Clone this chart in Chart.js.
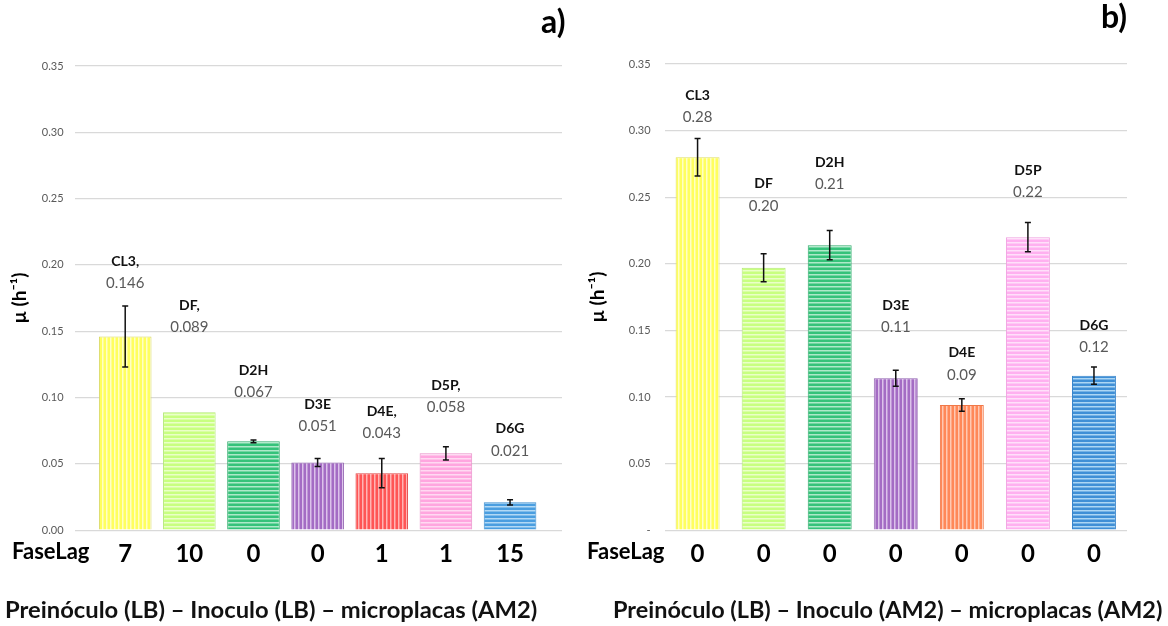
<!DOCTYPE html>
<html>
<head>
<meta charset="utf-8">
<script src="https://cdn.jsdelivr.net/npm/chart.js@4.4.1/dist/chart.umd.min.js"></script>
<style>
  body { margin: 0; background: #fff; width: 1168px; height: 626px; overflow: hidden; position: relative; font-family: Lato, sans-serif; }
  .box { position: absolute; top: 0; height: 626px; }
  #boxA { left: 0; width: 580px; }
  #boxB { left: 580px; width: 588px; }
  .txt { position: absolute; white-space: nowrap; color: #000; font-weight: bold; }
  .tag { font-size: 32px; line-height: 36px; }
  .lag { font-size: 22px; line-height: 26px; }
  .cap { font-size: 22px; line-height: 26px; color: #111; transform-origin: 0 0; }
</style>
</head>
<body>
<div class="box" id="boxA"><canvas id="chartA"></canvas></div>
<div class="box" id="boxB"><canvas id="chartB"></canvas></div>
<div class="txt tag" style="left:541px;top:3px">a)</div>
<div class="txt tag" style="left:1101px;top:-2px">b)</div>
<div class="txt lag" style="left:12px;top:538px">FaseLag</div>
<div class="txt lag" style="left:587px;top:538px">FaseLag</div>
<div class="txt cap" style="left:5px;top:597px;transform:scaleX(1.08)">Preinóculo (LB) – Inoculo (LB) – microplacas (AM2)</div>
<div class="txt cap" style="left:613px;top:597px;transform:scaleX(1.065)">Preinóculo (LB) – Inoculo (AM2) – microplacas (AM2)</div>
<script>
// panel a) LB inoculum
const namesA = ['CL3,', 'DF,', 'D2H', 'D3E', 'D4E,', 'D5P,', 'D6G'];
const valuesA = [0.146, 0.089, 0.067, 0.051, 0.043, 0.058, 0.021];
const errA = [0.023, 0, 0.001, 0.003, 0.011, 0.005, 0.002];
const faseLagA = [7, 10, 0, 0, 1, 1, 15];

// panel b) AM2 inoculum
const namesB = ['CL3', 'DF', 'D2H', 'D3E', 'D4E', 'D5P', 'D6G'];
const valuesB = [0.28, 0.197, 0.214, 0.114, 0.094, 0.22, 0.116];
const errB = [0.014, 0.0105, 0.011, 0.006, 0.0047, 0.011, 0.0065];
const faseLagB = [0, 0, 0, 0, 0, 0, 0];

const yMax = 0.35;
const yStep = 0.05;

function stripes(base, light, dir) {
  const c = document.createElement('canvas');
  c.width = 4; c.height = 4;
  const g = c.getContext('2d');
  g.fillStyle = base;
  g.fillRect(0, 0, 4, 4);
  g.fillStyle = light;
  if (dir === 'v') g.fillRect(2, 0, 1.5, 4);
  else g.fillRect(0, 2, 4, 1.5);
  return g.createPattern(c, 'repeat');
}

const fillA = [
  stripes('#ffff5e', '#ffffc4', 'v'),
  stripes('#c8ff80', '#eaffc8', 'h'),
  stripes('#35c27a', '#aee9c9', 'h'),
  stripes('#a46cc4', '#dcc2ea', 'v'),
  stripes('#ff5555', '#ffb4b4', 'v'),
  stripes('#ffa6df', '#ffd9f2', 'h'),
  stripes('#4a9ee0', '#b2d9f5', 'h')
];
const borderA = ['#d8d860', '#b4e878', '#2eaa6a', '#9060b0', '#e04848', '#e890c8', '#4090d0'];
const fillB = [
  stripes('#ffff5e', '#ffffc4', 'v'),
  stripes('#c8ff80', '#eaffc8', 'h'),
  stripes('#35c27a', '#aee9c9', 'h'),
  stripes('#a46cc4', '#dcc2ea', 'v'),
  stripes('#ff8858', '#ffc8b2', 'v'),
  stripes('#ffb0f0', '#ffe0fa', 'h'),
  stripes('#3f8fd6', '#acd6f4', 'h')
];
const borderB = ['#e0e060', '#b4e878', '#2eaa6a', '#9060b0', '#f07848', '#f0a0e0', '#3a86cc'];

// error bars + two line labels over each bar
function overlay(names, values, errs, digits, lift) {
  return {
    id: 'overlay',
    afterDatasetsDraw(chart) {
      const ctx = chart.ctx;
      const y = chart.scales.y;
      chart.getDatasetMeta(0).data.forEach((bar, i) => {
        const x = bar.x;
        const v = values[i], e = errs[i];
        const t = y.getPixelForValue(v + e);
        const b = y.getPixelForValue(v - e);
        ctx.save();
        if (e > 0) {
          ctx.strokeStyle = '#111';
          ctx.lineWidth = 1.5;
          ctx.beginPath();
          ctx.moveTo(x, t); ctx.lineTo(x, b);
          ctx.moveTo(x - 3, t); ctx.lineTo(x + 3, t);
          ctx.moveTo(x - 3, b); ctx.lineTo(x + 3, b);
          ctx.stroke();
        }
        const ly = t - lift[i];
        ctx.textAlign = 'center';
        ctx.textBaseline = 'middle';
        ctx.fillStyle = '#595959';
        ctx.font = '15px Lato';
        ctx.fillText(v.toFixed(digits), x, ly);
        ctx.fillStyle = '#111';
        ctx.font = 'bold 14px Lato';
        ctx.fillText(names[i], x, ly - 22);
        ctx.restore();
      });
    }
  };
}

function yAxis(zeroDash, titlePad, tickPad) {
  return {
    min: 0,
    max: yMax,
    border: { display: false },
    grid: { color: '#d9d9d9', lineWidth: 1.2, drawTicks: false },
    ticks: {
      stepSize: yStep,
      padding: tickPad,
      color: '#595959',
      font: { family: 'Lato', size: 11 },
      callback: v => (zeroDash && v === 0) ? '-' : v.toFixed(2)
    },
    title: {
      display: true,
      text: 'µ (h⁻¹)',
      color: '#000',
      font: { family: 'Lato', size: 19, weight: 'bold' },
      padding: { top: 0, bottom: titlePad }
    }
  };
}

const lagTicks = { family: 'Lato', size: 24, weight: 'bold' };

// panel a uses a linear x so the bars sit inset from the grid lines
new Chart(document.getElementById('chartA'), {
  type: 'bar',
  data: {
    datasets: [{
      data: valuesA.map((v, i) => ({ x: i, y: v })),
      backgroundColor: fillA,
      borderColor: borderA,
      borderWidth: 1,
      barPercentage: 0.82,
      categoryPercentage: 1
    }]
  },
  options: {
    responsive: true,
    maintainAspectRatio: false,
    animation: false,
    layout: { padding: { top: 66, right: 18, left: 8, bottom: 47 } },
    plugins: { legend: { display: false }, tooltip: { enabled: false } },
    scales: {
      x: {
        type: 'linear',
        offset: false,
        min: -0.79,
        max: 6.81,
        border: { display: false },
        grid: { display: false, drawTicks: false },
        ticks: {
          stepSize: 1,
          includeBounds: false,
          autoSkip: false,
          maxRotation: 0,
          padding: 10,
          color: '#000',
          font: lagTicks,
          callback: v => (Number.isInteger(v) && v >= 0 && v < faseLagA.length) ? String(faseLagA[v]) : ''
        }
      },
      y: yAxis(false, 0, 11)
    }
  },
  plugins: [overlay(namesA, valuesA, errA, 3, [23, 85, 48, 32, 25, 39, 49])]
});

new Chart(document.getElementById('chartB'), {
  type: 'bar',
  data: {
    labels: namesB,
    datasets: [{
      data: valuesB,
      backgroundColor: fillB,
      borderColor: borderB,
      borderWidth: 1,
      barPercentage: 0.665,
      categoryPercentage: 1
    }]
  },
  options: {
    responsive: true,
    maintainAspectRatio: false,
    animation: false,
    layout: { padding: { top: 64, right: 41, left: 6, bottom: 47 } },
    plugins: { legend: { display: false }, tooltip: { enabled: false } },
    scales: {
      x: {
        border: { display: false },
        grid: { display: false, drawTicks: false },
        ticks: {
          autoSkip: false,
          maxRotation: 0,
          padding: 10,
          color: '#000',
          font: lagTicks,
          callback: (v, i) => String(faseLagB[i])
        }
      },
      y: yAxis(true, 6, 14)
    }
  },
  plugins: [overlay(namesB, valuesB, errB, 2, [21, 48, 46, 43, 24, 30, 20])]
});
</script>
</body>
</html>
